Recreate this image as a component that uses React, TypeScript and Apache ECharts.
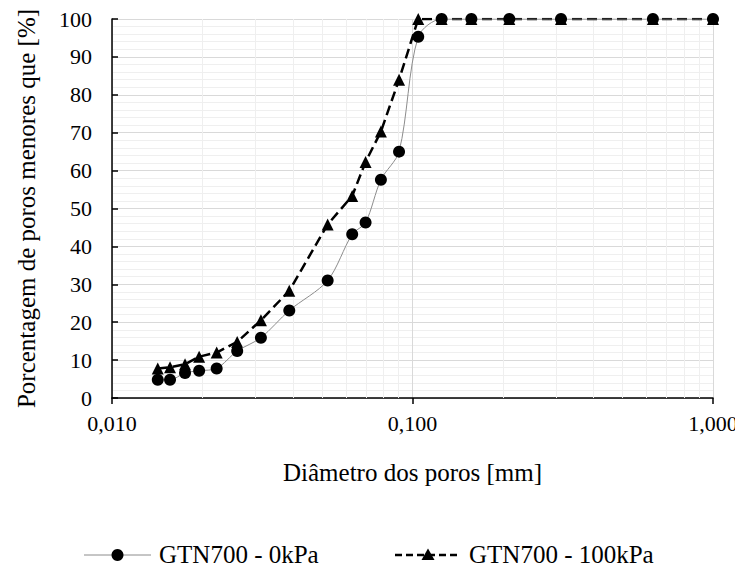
import React, { useEffect, useRef } from "react";
import * as echarts from "echarts";

// Pore diameter [mm] (shared by both series)
const diameters = [0.0142, 0.0156, 0.0175, 0.0195, 0.0223, 0.0261, 0.0313, 0.0389, 0.0522, 0.063, 0.0698, 0.0785, 0.0902, 0.1045, 0.125, 0.157, 0.21, 0.312, 0.631, 1.0];
// % of pores smaller than
const gtn0kPa = [4.8, 4.8, 6.6, 7.2, 7.8, 12.4, 15.9, 23.1, 31.0, 43.2, 46.3, 57.6, 65.0, 95.3, 100, 100, 100, 100, 100, 100];
const gtn100kPa = [7.8, 8.1, 8.9, 10.9, 12.0, 14.8, 20.5, 28.3, 45.8, 53.3, 62.3, 70.3, 84.0, 100, 100, 100, 100, 100, 100, 100];
const seriesNames = ["GTN700 - 0kPa", "GTN700 - 100kPa"];
// minor log gridline positions
const minorXTicks = [0.02, 0.03, 0.04, 0.05, 0.06, 0.07, 0.08, 0.09, 0.2, 0.3, 0.4, 0.5, 0.6, 0.7, 0.8, 0.9];

const FONT = "Liberation Serif";
const LEG_Y = 555;

export default function App() {
  const ref = useRef<HTMLDivElement>(null);
  useEffect(() => {
    if (!ref.current) return;
    const chart = echarts.init(ref.current, null, { renderer: "svg" });
    chart.setOption({
      animation: false,
      grid: { left: 112, right: 30, top: 19, bottom: 174 },
      xAxis: {
        type: "log",
        min: 0.01,
        max: 1,
        name: "Diâmetro dos poros [mm]",
        nameLocation: "middle",
        nameGap: 62,
        nameTextStyle: { fontFamily: FONT, fontSize: 25, color: "#000" },
        axisLine: { lineStyle: { color: "#000", width: 1.5 } },
        axisTick: { length: 6, lineStyle: { color: "#000", width: 1.5 } },
        axisLabel: {
          fontFamily: FONT,
          fontSize: 22,
          color: "#000",
          margin: 14,
          formatter: (v: number) => v.toFixed(3).replace(".", ","),
        },
        splitLine: { show: true, lineStyle: { color: "#d9d9d9", width: 1 } },
      },
      yAxis: {
        type: "value",
        min: 0,
        max: 100,
        interval: 10,
        name: "Porcentagem de poros menores que [%]",
        nameLocation: "middle",
        nameGap: 73,
        nameTextStyle: { fontFamily: FONT, fontSize: 25, color: "#000" },
        axisLine: { show: true, lineStyle: { color: "#000", width: 1.5 } },
        axisTick: { show: true, inside: true, length: 6, lineStyle: { color: "#000", width: 1.5 } },
        axisLabel: { fontFamily: FONT, fontSize: 22, color: "#000", margin: 20 },
        splitLine: { show: true, lineStyle: { color: "#d9d9d9", width: 1 } },
        minorSplitLine: { show: true, lineStyle: { color: "#efefef", width: 1 } },
      },
      graphic: [
        { type: "line", shape: { x1: 84, y1: LEG_Y, x2: 151, y2: LEG_Y }, style: { stroke: "#8c8c8c", lineWidth: 1 } },
        { type: "circle", shape: { cx: 117.5, cy: LEG_Y, r: 6 }, style: { fill: "#000" } },
        { type: "text", x: 159, y: LEG_Y - 13, style: { text: seriesNames[0], fontFamily: FONT, fontSize: 25, fill: "#000" } },
        { type: "line", shape: { x1: 395, y1: LEG_Y, x2: 460, y2: LEG_Y }, style: { stroke: "#000", lineWidth: 2.5, lineDash: [7, 4] } },
        { type: "polygon", shape: { points: [[428, LEG_Y - 6.5], [434.5, LEG_Y + 5], [421.5, LEG_Y + 5]] }, style: { fill: "#000" } },
        { type: "text", x: 469, y: LEG_Y - 13, style: { text: seriesNames[1], fontFamily: FONT, fontSize: 25, fill: "#000" } },
      ],
      series: [
        {
          type: "line",
          name: seriesNames[0],
          data: diameters.map((d, i) => [d, gtn0kPa[i]]),
          smooth: 0.3,
          symbol: "circle",
          symbolSize: 12,
          lineStyle: { color: "#8c8c8c", width: 1 },
          itemStyle: { color: "#000" },
          z: 3,
          markLine: {
            silent: true,
            z: 1,
            symbol: ["none", "none"],
            label: { show: false },
            lineStyle: { color: "#efefef", width: 1, type: "solid" },
            data: minorXTicks.map((v) => ({ xAxis: v })),
          },
        },
        {
          type: "line",
          name: seriesNames[1],
          data: diameters.map((d, i) => [d, gtn100kPa[i]]),
          symbol: "triangle",
          symbolSize: 12,
          lineStyle: { color: "#000", width: 2.5, type: "dashed" },
          itemStyle: { color: "#000" },
          z: 2,
        },
      ],
    });
    return () => chart.dispose();
  }, []);
  return <div ref={ref} style={{ width: 743, height: 572, margin: -8 }} />;
}
